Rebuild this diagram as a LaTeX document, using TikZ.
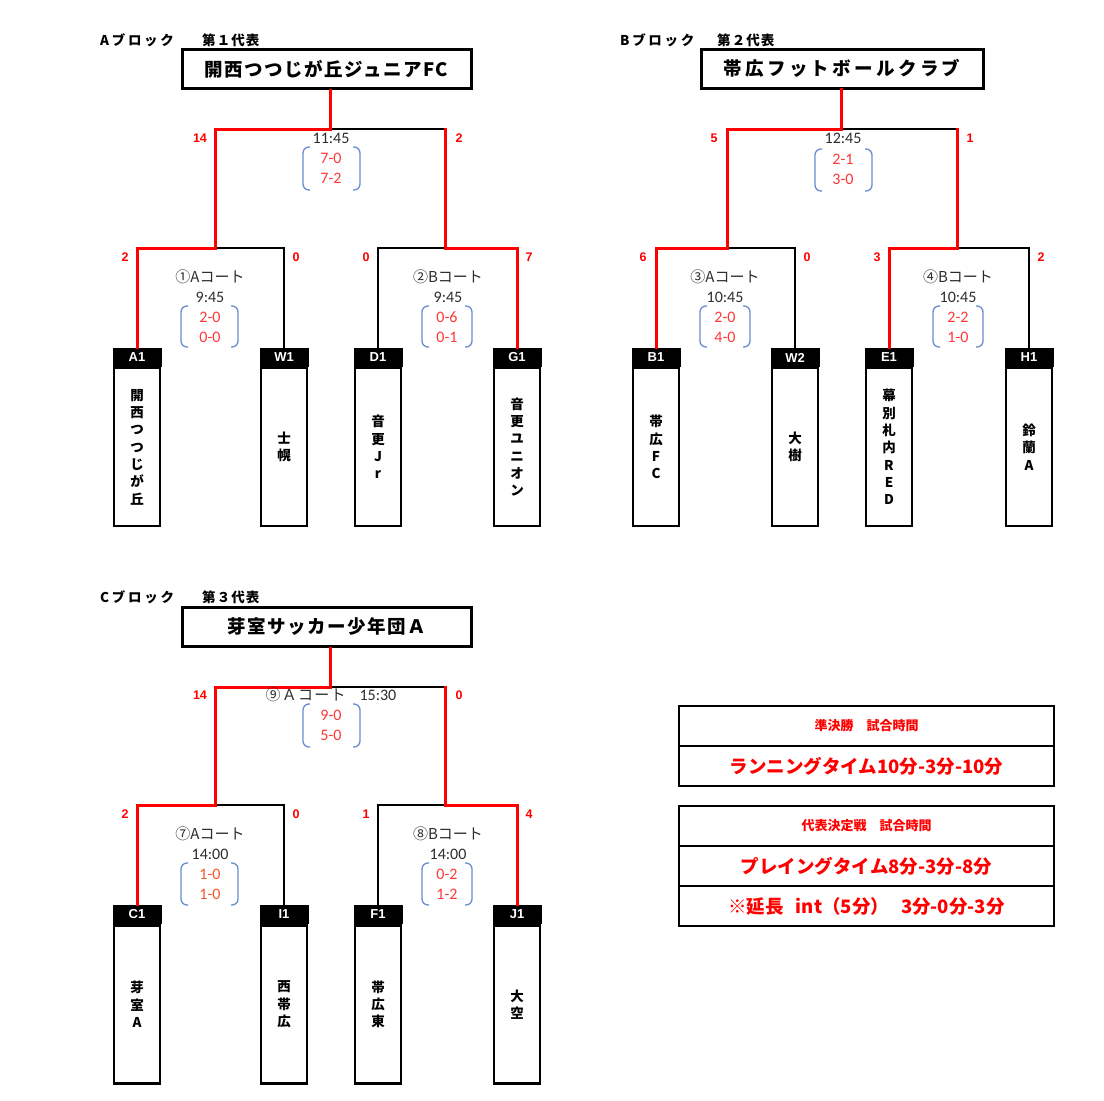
\documentclass[tikz,border=0pt]{standalone}
\usepackage{fontspec}
\newfontfamily\jp{Noto Sans CJK JP}
\newfontfamily\calfont{Carlito}
\newfontfamily\arfont{Liberation Sans}
\definecolor{scred}{RGB}{255,55,55}
\definecolor{scor}{RGB}{245,85,40}
\definecolor{brblue}{RGB}{105,140,210}
\definecolor{dgray}{RGB}{45,45,45}
\tikzset{
 rl/.style={draw=red, line width=3pt, line cap=rect},
 bl/.style={draw=black, line width=2.2pt, line cap=rect},
 thead/.style={fill=black, text=white, minimum width=49pt, minimum height=19pt, inner sep=0pt, font=\arfont\bfseries\fontsize{13}{13}\selectfont},
 tbody/.style={draw=black, line width=2.5pt, minimum width=46pt, minimum height=158pt, inner sep=0pt, align=center, font=\jp\bfseries\fontsize{13.5}{17.3}\selectfont},
 winbox/.style={draw=black, line width=3pt, minimum height=39pt, inner sep=0pt, font=\jp\bfseries\fontsize{18.5}{18.5}\selectfont},
 pts/.style={text=red, font=\arfont\bfseries\fontsize{12.5}{12.5}\selectfont, inner sep=0pt},
 court/.style={text=dgray, font=\jp\fontsize{15}{15}\selectfont, inner sep=0pt},
 tm/.style={text=dgray, font=\calfont\fontsize{16}{16}\selectfont, inner sep=0pt},
 sc/.style={text=scred, font=\calfont\fontsize{16}{16}\selectfont, inner sep=0pt},
 brk/.style={draw=brblue, line width=1.3pt, rounded corners=6pt},
 blk/.style={font=\jp\bfseries\fontsize{13.5}{13.5}\selectfont, anchor=west, inner sep=0pt},
 rowbox/.style={draw=black, line width=2.2pt, minimum width=375pt, minimum height=40pt, inner sep=0pt, text=red},
 rowsmall/.style={rowbox, font=\jp\bfseries\fontsize{13}{13}\selectfont},
 rowbig/.style={rowbox, font=\jp\bfseries\fontsize{18.5}{18.5}\selectfont},
}
\newcommand\bracketpair[4]{%
 \draw[brk] (#1+7,#3) -- (#1,#3) -- (#1,#4) -- (#1+7,#4);
 \draw[brk] (#2-7,#3) -- (#2,#3) -- (#2,#4) -- (#2-7,#4);}
\begin{document}
\begin{tikzpicture}[x=1pt,y=-1pt]
\useasboundingbox (0,0) rectangle (1104,1101);
\fill[white] (0,0) rectangle (1104,1101);

% ================= Block A =================
\node[blk] (labA) at (100,40) {\addfontfeatures{LetterSpace=20}Aブロック};
\node[blk] (repA) at (202,40) {\addfontfeatures{LetterSpace=8}第１代表};
\node[winbox, minimum width=289pt] (WA) at (326.5,69) {\addfontfeatures{LetterSpace=8}開西つつじが丘ジュニアFC};

\node[thead] (A1h) at (137,357.5) {A1};
\node[thead] (W1h) at (284,357.5) {W1};
\node[thead] (D1h) at (378,357.5) {D1};
\node[thead] (G1h) at (517,357.5) {G1};
\node[tbody] (A1b) at (137,447) {開\\西\\つ\\つ\\じ\\が\\丘};
\node[tbody] (W1b) at (284,447) {士\\幌};
\node[tbody] (D1b) at (378,447) {音\\更\\J\\r};
\node[tbody] (G1b) at (517,447) {音\\更\\ユ\\ニ\\オ\\ン};
\node[thead] at (137,357.5) {A1};
\node[thead] at (284,357.5) {W1};
\node[thead] at (378,357.5) {D1};
\node[thead] at (517,357.5) {G1};

\coordinate (jA1) at (215,248);
\coordinate (jA2) at (445,248);
\coordinate (fA) at (330,129);
\draw[bl] (W1h.north) |- (jA1);
\draw[bl] (D1h.north) |- (jA2);
\draw[bl] (jA2 |- fA) -- (fA);
\draw[rl] (A1h.north) |- (jA1);
\draw[rl] (G1h.north) |- (jA2);
\draw[rl] (jA1) |- (fA);
\draw[rl] (jA2) -- (jA2 |- fA);
\draw[rl] (fA) -- (fA |- WA.south);

\node[pts] at (200,138) {14};
\node[pts] at (459,138) {2};
\node[pts] at (125,257) {2};
\node[pts] at (296,257) {0};
\node[pts] at (366,257) {0};
\node[pts] at (529,257) {7};

\node[tm] at (331,138) {11:45};
\bracketpair{303}{360}{147}{190}
\node[sc] at (331,158) {7-0};
\node[sc] at (331,178) {7-2};

\node[court] at (210,277) {①Aコート};
\node[tm] at (210,297) {9:45};
\bracketpair{181}{238}{306}{347}
\node[sc] at (210,317) {2-0};
\node[sc] at (210,337) {0-0};

\node[court] at (448,277) {②Bコート};
\node[tm] at (448,297) {9:45};
\bracketpair{422}{472}{306}{347}
\node[sc] at (447,317) {0-6};
\node[sc] at (447,337) {0-1};

% ================= Block B =================
\node[blk] (labB) at (620,40) {\addfontfeatures{LetterSpace=20}Bブロック};
\node[blk] (repB) at (717,40) {\addfontfeatures{LetterSpace=8}第２代表};
\node[winbox, minimum width=282pt] (WB) at (842,68.5) {\addfontfeatures{LetterSpace=18}帯広フットボールクラブ};

\node[thead] (B1h) at (656,357.5) {B1};
\node[thead] (W2h) at (795,357.5) {W2};
\node[thead] (E1h) at (889,357.5) {E1};
\node[thead] (H1h) at (1029,357.5) {H1};
\node[tbody] (B1b) at (656,447) {帯\\広\\F\\C};
\node[tbody] (W2b) at (795,447) {大\\樹};
\node[tbody] (E1b) at (889,447) {幕\\別\\札\\内\\R\\E\\D};
\node[tbody] (H1b) at (1029,447) {鈴\\蘭\\A};
\node[thead] at (656,357.5) {B1};
\node[thead] at (795,357.5) {W2};
\node[thead] at (889,357.5) {E1};
\node[thead] at (1029,357.5) {H1};

\coordinate (jB1) at (727,248);
\coordinate (jB2) at (957,248);
\coordinate (fB) at (841,129);
\draw[bl] (W2h.north) |- (jB1);
\draw[bl] (H1h.north) |- (jB2);
\draw[bl] (jB2 |- fB) -- (fB);
\draw[rl] (B1h.north) |- (jB1);
\draw[rl] (E1h.north) |- (jB2);
\draw[rl] (jB1) |- (fB);
\draw[rl] (jB2) -- (jB2 |- fB);
\draw[rl] (fB) -- (fB |- WB.south);

\node[pts] at (714,138) {5};
\node[pts] at (970,138) {1};
\node[pts] at (643,257) {6};
\node[pts] at (807,257) {0};
\node[pts] at (877,257) {3};
\node[pts] at (1041,257) {2};

\node[tm] at (843,138) {12:45};
\bracketpair{815}{872}{149}{191}
\node[sc] at (843,159) {2-1};
\node[sc] at (843,179) {3-0};

\node[court] at (725,277) {③Aコート};
\node[tm] at (725,297) {10:45};
\bracketpair{700}{750}{306}{347}
\node[sc] at (725,317) {2-0};
\node[sc] at (725,337) {4-0};

\node[court] at (958,277) {④Bコート};
\node[tm] at (958,297) {10:45};
\bracketpair{933}{983}{306}{347}
\node[sc] at (958,317) {2-2};
\node[sc] at (958,337) {1-0};

% ================= Block C =================
\node[blk] (labC) at (100,597) {\addfontfeatures{LetterSpace=20}Cブロック};
\node[blk] (repC) at (202,597) {\addfontfeatures{LetterSpace=8}第３代表};
\node[winbox, minimum width=289pt] (WC) at (326.5,627) {\addfontfeatures{LetterSpace=8}芽室サッカー少年団Ａ};

\node[thead] (C1h) at (137,914.5) {C1};
\node[thead] (I1h) at (284,914.5) {I1};
\node[thead] (F1h) at (378,914.5) {F1};
\node[thead] (J1h) at (517,914.5) {J1};
\node[tbody] (C1b) at (137,1004.5) {芽\\室\\A};
\node[tbody] (I1b) at (284,1004.5) {西\\帯\\広};
\node[tbody] (F1b) at (378,1004.5) {帯\\広\\東};
\node[tbody] (J1b) at (517,1004.5) {大\\空};
\node[thead] at (137,914.5) {C1};
\node[thead] at (284,914.5) {I1};
\node[thead] at (378,914.5) {F1};
\node[thead] at (517,914.5) {J1};

\coordinate (jC1) at (215,805);
\coordinate (jC2) at (445,805);
\coordinate (fC) at (330,687);
\draw[bl] (I1h.north) |- (jC1);
\draw[bl] (F1h.north) |- (jC2);
\draw[bl] (jC2 |- fC) -- (fC);
\draw[rl] (C1h.north) |- (jC1);
\draw[rl] (J1h.north) |- (jC2);
\draw[rl] (jC1) |- (fC);
\draw[rl] (jC2) -- (jC2 |- fC);
\draw[rl] (fC) -- (fC |- WC.south);

\node[pts] at (200,695) {14};
\node[pts] at (459,695) {0};
\node[pts] at (125,814) {2};
\node[pts] at (296,814) {0};
\node[pts] at (366,814) {1};
\node[pts] at (529,814) {4};

\node[court] at (331,695) {{\addfontfeatures{LetterSpace=8}⑨Ａコート}\hspace{14pt}{\calfont\fontsize{16}{16}\selectfont 15:30}};
\bracketpair{303}{360}{704}{747}
\node[sc] at (331,715) {9-0};
\node[sc] at (331,735) {5-0};

\node[court] at (210,834) {⑦Aコート};
\node[tm] at (210,854) {14:00};
\bracketpair{181}{238}{863}{905}
\node[sc, text=scor] at (210,874) {1-0};
\node[sc, text=scor] at (210,894) {1-0};

\node[court] at (448,834) {⑧Bコート};
\node[tm] at (448,854) {14:00};
\bracketpair{422}{472}{863}{905}
\node[sc] at (447,874) {0-2};
\node[sc] at (447,894) {1-2};

% ================= Tables =================
\node[rowsmall] (t1a) at (866.5,726) {準決勝　試合時間};
\node[rowbig] (t1b) at (866.5,766) {ランニングタイム10分-3分-10分};
\node[rowsmall] (t2a) at (866.5,826) {代表決定戦　試合時間};
\node[rowbig] (t2b) at (866.5,866) {プレイングタイム8分-3分-8分};
\node[rowbig] (t2c) at (866.5,906) {※延長\hspace{12pt}int（5分）\hspace{12pt}3分-0分-3分};
\end{tikzpicture}
\end{document}
